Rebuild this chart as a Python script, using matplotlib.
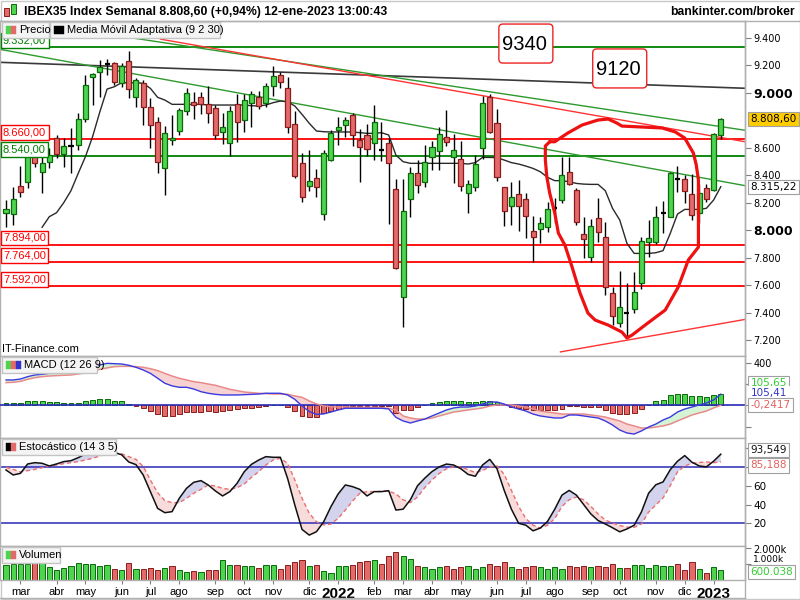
import numpy as np
import pandas as pd
import matplotlib
matplotlib.use("Agg")
import matplotlib.pyplot as plt
from matplotlib.patches import Rectangle, FancyBboxPatch
import matplotlib.transforms as mtransforms

plt.rcParams['font.family'] = ['Liberation Sans', 'DejaVu Sans']

# ---------------- DATA ----------------
start_date = "2021-02-15"
opens = [8121,8114,8320,8351,8545,8424,8497,8667,8550,8612,8618,8807,9110,9151,9210,9212,9067,9229,8965,9071,
         8892,8783,8448,8654,8720,8865,8928,8965,8916,8885,8715,8635,8914,8800,8921,8970,8921,9050,9127,9030,
         8771,8485,8320,8376,8114,8509,8727,8764,8836,8654,8691,8635,8583,8630,8296,7510,8223,8412,8347,8528,
         8574,8674,8533,8514,8271,8310,8594,8965,8776,8310,8177,8262,8223,7993,8005,8019,8160,8218,8419,8291,
         7968,7801,8085,7952,7539,7326,7396,7423,7617,7915,7910,8124,8097,8371,8371,8262,8121,8303,8291,8691]
highs = [8218,8315,8465,8594,8594,8538,8594,8691,8667,8739,8848,9127,9144,9236,9241,9224,9212,9302,9103,9091,
         8958,8824,8756,8836,8885,9030,9006,9006,9047,8909,8848,8902,8989,8989,9013,9013,9067,9193,9151,9110,
         8868,8562,8582,8441,8582,8727,8824,8824,8853,8732,8771,8909,8788,8667,8368,8368,8461,8509,8618,8650,
         8747,8873,8698,8650,8364,8545,8974,8989,8877,8315,8351,8364,8267,8102,8097,8206,8230,8533,8533,8303,
         8097,8078,8230,8061,7588,7704,7617,7692,7947,8073,8175,8211,8424,8468,8400,8407,8332,8332,8703,8817]
lows = [8024,8036,8238,8303,8461,8271,8448,8526,8461,8417,8582,8788,8909,8970,9127,9054,9042,8958,8897,8764,
        8594,8417,8255,8618,8691,8836,8805,8844,8776,8659,8625,8538,8642,8715,8751,8877,8892,8977,9035,8703,
        8376,8206,8286,8242,8073,8504,8618,8679,8611,8351,8538,8509,8504,8044,7714,7292,8092,8271,8310,8436,
        8436,8611,8339,8284,8126,8286,8514,8703,8359,8029,8036,7995,7939,7770,7908,7988,8048,8194,8327,8036,
        7794,7770,7915,7527,7309,7292,7212,7394,7569,7801,7898,7976,8097,8279,8194,8073,8053,8206,8286,8659]
closes = [8150,8223,8279,8545,8485,8490,8545,8550,8611,8616,8805,9054,9134,9188,9214,9079,9195,9023,9091,8897,
          8764,8497,8708,8669,8873,8994,8909,8916,8853,8691,8751,8865,8788,8945,8987,8902,9047,9120,9074,8747,
          8395,8238,8354,8310,8558,8708,8747,8800,8691,8601,8587,8788,8585,8485,7721,8141,8412,8327,8497,8601,
          8696,8642,8582,8320,8332,8480,8926,8715,8383,8141,8238,8175,8102,7947,8048,8150,8164,8400,8332,8061,
          7932,8032,7983,7583,7375,7438,7392,7547,7920,7939,8092,8128,8417,8375,8286,8109,8267,8223,8696,8809]
ama = [np.nan]*5 + [8020,8097,8126,8199,8286,8412,8533,8680,8860,9025,9042,9071,9071,9071,9067,
       9030,8965,8945,8914,8914,8914,8914,8914,8909,8909,8909,8909,8909,8909,8904,8902,8909,8926,8938,8933,
       8902,8841,8776,8720,8715,8713,8713,8713,8713,8708,8703,8703,8708,8691,8545,8497,8485,8485,8485,8485,
       8485,8485,8485,8485,8480,8490,8528,8528,8526,8509,8490,8480,8465,8448,8424,8383,8359,8359,8351,8339,
       8334,8332,8332,8286,8158,8073,7903,7830,7830,7830,7835,7850,7976,8116,8150,8150,8150,8158,8218,8315]
volume_k = [906,1011,1011,1011,1054,1054,801,632,759,843,1075,969,1011,843,906,695,632,1075,695,695,
            759,632,759,843,632,485,548,485,632,632,1222,948,948,843,843,759,906,906,695,906,
            1117,1222,843,948,590,442,843,843,906,1117,1180,1264,1011,1475,1749,1500,1300,900,800,700,
            800,900,700,800,900,700,800,1000,900,1100,800,700,800,900,800,700,800,700,900,800,
            900,800,900,801,969,759,759,906,906,759,906,843,843,969,632,1117,695,442,801,600]
macd_line = [238,238,247,269,285,291,300,300,304,307,313,332,357,379,394,391,388,376,357,332,
             300,254,207,182,169,169,153,128,113,103,97,97,97,100,103,106,113,113,113,97,
             56,-6,-59,-85,-81,-63,-44,-28,-28,-28,-28,-28,-28,-34,-113,-147,-166,-147,-129,-100,
             -72,-44,-25,-16,-16,-7,12,31,31,12,-16,-35,-54,-82,-100,-110,-119,-119,-91,-91,
             -100,-110,-119,-147,-185,-232,-260,-270,-241,-204,-176,-138,-110,-63,-35,-16,3,22,50,105]
macd_signal = [213,216,225,244,260,269,275,279,282,285,294,304,316,338,351,363,366,366,363,357,
               344,326,300,275,254,238,222,213,200,188,169,150,138,125,119,113,110,106,106,103,
               88,75,41,13,-6,-13,-16,-16,-19,-19,-19,-19,-22,-28,-44,-100,-119,-129,-129,-119,
               -100,-82,-63,-54,-44,-35,-25,-7,3,3,3,-7,-16,-35,-54,-63,-72,-82,-82,-82,
               -82,-91,-100,-110,-129,-147,-176,-194,-213,-213,-204,-194,-176,-147,-119,-91,-72,-54,-25,0]
macd_hist = [19,19,19,41,41,41,31,31,19,19,19,41,50,56,56,41,41,9,-3,-28,
             -56,-81,-100,-100,-81,-63,-59,-59,-53,-59,-53,-44,-38,-28,-25,-13,-6,0,0,-19,
             -53,-100,-106,-106,-69,-53,-38,-13,-6,-6,-6,-6,-6,-6,-69,-47,-47,-19,0,19,
             28,38,38,38,28,28,38,38,28,9,-19,-28,-38,-47,-47,-47,-47,-38,-9,-9,
             -19,-19,-19,-47,-75,-85,-85,-72,-31,0,38,54,94,104,104,85,85,82,94,106]
stoch_k = [76.7,71.4,73.1,83.1,84.5,83.8,81.0,83.1,85.6,86.6,89.8,93.7,95.1,95.5,95.5,95.1,93.0,85.2,82.4,71.4,
           53.6,35.9,31.3,32.4,46.6,57.2,63.6,65.4,60.8,54.4,49.1,53.7,62.5,74.9,82.7,87.3,90.9,90.2,90.2,67.8,
           39.5,13.5,7.5,11.1,21.7,37.7,51.2,60.8,59.0,56.1,49.1,53.7,53.7,54.7,34.1,35,45,60,68,75,
           80,83,82,78,72,70,82,88,78,55,35,20,18,12,15,22,35,50,55,50,
           40,30,23,19.3,15.3,11,14,18,32,52,61,64,77,86,92,85,81,80,86,93.5]
stoch_d = [79.5,77.4,74.6,76.0,77.4,79.1,81.0,82.0,83.4,84.5,85.6,87.3,89.1,91.6,93.7,95.1,94.0,90.9,88.0,80.5,
           66.0,52.6,44.1,42.0,42.0,46.6,51.9,56.1,60.8,59.7,57.2,56.1,57.9,61.8,68.9,74.9,82.0,87.3,89.1,83.8,
           66.1,46.6,30.6,21.7,18.2,19.2,25.3,34.1,43.7,51.9,53.7,53.7,54.0,54.4,51.2,45,42,48,58,66,
           73,78,80,80,77,74,76,80,81,72,55,38,25,18,15,18,25,38,45,48,
           45,38,30,23.5,20.3,17.7,16,15.7,19.3,32,39.5,47,60,74.6,81,83.8,84.7,85.2,84.5,85.2]

h_levels = [9332, 8660, 8540, 7894, 7764, 7592]
h_colors = ['#008000', '#ff0000', '#008000', '#ff0000', '#ff0000', '#ff0000']
# trendlines: (week index, price) anchor pairs
tl_black = [(0, 9218), (99, 9037)]
tl_green_up = [(20, 9377), (99, 8752)]
tl_red_up = [(21.3, 9389), (99, 8673)]
tl_green_lo = [(0, 9306), (99, 8355)]
tl_red_lo = [(76.7, 7113), (99, 7319)]
# hand-drawn loop (week index, price)
loop_idx = [75.3,74.7,74.7,74.9,75.3,76.0,76.5,77.4,78.4,79.5,80.6,81.6,83.4,85.3,86.0,86.7,88.9,91.3,93.1,94.5,
            95.9,95.9,95.9,95.9,95.6,95.2,94.0,92.7,90.9,88.1,85.3,84.6,83.4,82.0,79.8,77.8,76.0,75.3]
loop_price = [8642,8611,8509,8388,8269,8124,7978,7891,7731,7542,7396,7345,7309,7258,7215,7236,7324,7418,7585,7782,
              7876,7905,8145,8364,8473,8560,8669,8713,8742,8749,8756,8778,8807,8800,8764,8705,8642,8642]
notes = [("9340", 72.0, 9356), ("9120", 85.0, 9175)]

last_price = 8808.60
tl_value = 8315.22
macd_vals = (105.65, 105.41, -0.2417)
stoch_vals = (93.549, 85.188)
last_volume = 600038

# ---------------- LAYOUT ----------------
W, H = 800, 600
fig = plt.figure(figsize=(8, 6), dpi=100)
fig.patch.set_facecolor('white')
GRAY = '#b0b0b0'

def add_ax(x0, y0, x1, y1):
    ax = fig.add_axes([x0 / W, 1 - y1 / H, (x1 - x0) / W, (y1 - y0) / H])
    for s in ax.spines.values():
        s.set_color(GRAY)
        s.set_linewidth(1)
    ax.set_facecolor('white')
    return ax

def es(v, dec):
    s = f"{v:,.{dec}f}"
    return s.replace(",", "X").replace(".", ",").replace("X", ".")

def px_rect(x0, y0, x1, y1, fc='#f2f2f2', ec='#c0c0c0', lw=1, z=5):
    r = Rectangle((x0 / W, 1 - y1 / H), (x1 - x0) / W, (y1 - y0) / H, transform=fig.transFigure,
                  facecolor=fc, edgecolor=ec, linewidth=lw, zorder=z)
    fig.add_artist(r)

XL = (-0.83, 102.35)
YL = (7084, 9520)
n = len(closes)
idx = np.arange(n)
dates = pd.date_range(start_date, periods=n, freq="7D")

GF, GE = '#4fd44f', '#0a6a0a'
RF, RE = '#e46a6a', '#8a1c1c'

# ---- main price panel ----
axp = add_ax(0, 21, 745, 356)
axp.set_xlim(XL)
axp.set_ylim(YL)
axp.set_xticks([])

for lvl, col in zip(h_levels, h_colors):
    axp.axhline(lvl, color=col, lw=1.3, zorder=2)

def tline(pts, col, lw=1.0, start_at_first=False):
    (x1, y1), (x2, y2) = pts
    sl = (y2 - y1) / (x2 - x1)
    xa = x1 if start_at_first else XL[0]
    xs = np.array([xa, XL[1]])
    axp.plot(xs, y1 + sl * (xs - x1), color=col, lw=lw, zorder=2, solid_capstyle='butt')

tline(tl_black, '#3a3a3a', 1.2)
tline(tl_green_up, '#2e9a2e', 1.0)
tline(tl_red_up, '#ff3333', 1.0, start_at_first=True)
tline(tl_green_lo, '#2e9a2e', 1.0)
tline(tl_red_lo, '#ff3333', 1.0, start_at_first=True)

axp.plot(idx, ama, color='#2a2a2a', lw=1.0, zorder=3)

bw = 0.7
for i, (o, h, l, c) in enumerate(zip(opens, highs, lows, closes)):
    axp.vlines(i, l, h, color='black', lw=1.0, zorder=4)
    if abs(c - o) < 6:
        axp.hlines(o, i - bw / 2, i + bw / 2, color='black', lw=1.6, zorder=5)
    else:
        up = c > o
        axp.add_patch(Rectangle((i - bw / 2, min(o, c)), bw, abs(c - o),
                                facecolor=GF if up else RF, edgecolor=GE if up else RE,
                                lw=0.9, zorder=5))

axp.plot(loop_idx, loop_price, color='#ee1111', lw=2.3, zorder=6,
         solid_joinstyle='round', solid_capstyle='round')

# note boxes: size in pixels converted through the axes scale
ppx = 745 / (XL[1] - XL[0])          # pixels per week
ppy = 335 / (YL[1] - YL[0])          # pixels per point
bwid, bhei, rad = 54 / ppx, 39 / ppy, 4 / ppx
for txt, xi, yp in notes:
    axp.add_patch(FancyBboxPatch((xi - bwid / 2, yp - bhei / 2), bwid, bhei,
                                 boxstyle=f'round,pad=0,rounding_size={rad}',
                                 mutation_aspect=ppx / ppy, fc='white', ec='#ee2222', lw=1, zorder=7))
    axp.text(xi - 0.2, yp - 10, txt, fontsize=14.5, ha='center', va='center', zorder=8)

blend = mtransforms.blended_transform_factory(axp.transAxes, axp.transData)
for lvl, col in zip(h_levels, h_colors):
    axp.text(0.004, lvl + 12, es(lvl, 2), transform=blend, color=col, fontsize=8, ha='left', va='bottom',
             zorder=8, bbox=dict(boxstyle='square,pad=0.22', fc='white', ec=col, lw=1))

ticks = [7200, 7400, 7600, 7800, 8000, 8200, 8400, 8600, 9000, 9200, 9400]
axp.yaxis.tick_right()
axp.set_yticks(ticks, labels=[es(t, 0) for t in ticks])
axp.tick_params(axis='y', length=4, width=0.8, color='#808080', pad=2, labelsize=7.5)
for lb in axp.get_yticklabels():
    lb.set_family('DejaVu Sans')
    if lb.get_text() in ('9.000', '8.000'):
        lb.set_fontweight('bold')
        lb.set_fontsize(9)
    else:
        lb.set_fontsize(7)

axp.annotate(es(last_price, 2), xy=(1, last_price), xycoords=('axes fraction', 'data'),
             xytext=(4, 0), textcoords='offset points', va='center', ha='left', fontsize=7.5,
             family='DejaVu Sans', annotation_clip=False,
             bbox=dict(boxstyle='square,pad=0.2', fc='#ffcc00', ec='#a0a0a0', lw=0.8))
axp.annotate(es(tl_value, 2), xy=(1, tl_value), xycoords=('axes fraction', 'data'),
             xytext=(4, 0), textcoords='offset points', va='center', ha='left', fontsize=7.5,
             family='DejaVu Sans', annotation_clip=False,
             bbox=dict(boxstyle='square,pad=0.2', fc='white', ec='#a0a0a0', lw=0.8))
axp.text(0.003, 0.005, "IT-Finance.com", transform=axp.transAxes, fontsize=8, va='bottom', ha='left')

# ---- MACD panel ----
axm = add_ax(0, 356, 745, 438)
axm.set_xlim(XL)
axm.set_ylim(-307, 463)
axm.set_xticks([])
mline = np.array(macd_line, float)
msig = np.array(macd_signal, float)
axm.fill_between(idx, mline, msig, where=mline >= msig, interpolate=True, color='#d5f3d5', lw=0, zorder=1)
axm.fill_between(idx, mline, msig, where=mline < msig, interpolate=True, color='#f7d2d2', lw=0, zorder=1)
hist = np.array(macd_hist, float)
axm.bar(idx, hist, width=0.68, color=[GF if v >= 0 else RF for v in hist],
        edgecolor=[GE if v >= 0 else RE for v in hist], lw=0.7, zorder=2)
axm.axhline(0, color='#2a2ab8', lw=1.2, zorder=3)
axm.plot(idx, msig, color='#e88a8a', lw=1.1, zorder=4)
axm.plot(idx, mline, color='#3a3ae0', lw=1.0, zorder=5)
axm.yaxis.tick_right()
axm.set_yticks([400, 200, 0, -200], labels=['400', '', '', ''])
axm.tick_params(axis='y', length=4, width=0.8, color='#808080', pad=2, labelsize=7)
for lb in axm.get_yticklabels():
    lb.set_family('DejaVu Sans')

def rlabel(ax, y, txt, col, box=True, dy=0):
    ax.annotate(txt, xy=(1, y), xycoords=('axes fraction', 'data'), xytext=(4, dy),
                textcoords='offset points', va='center', ha='left', fontsize=7.5, color=col,
                family='DejaVu Sans', annotation_clip=False,
                bbox=dict(boxstyle='square,pad=0.2', fc='white', ec='#a0a0a0' if box else 'white', lw=0.8))

rlabel(axm, macd_vals[0], es(macd_vals[0], 2), '#33cc33', dy=8)
rlabel(axm, macd_vals[1], es(macd_vals[1], 2), '#3333cc', box=False, dy=1)
rlabel(axm, macd_vals[2], es(macd_vals[2], 4), '#e06060')

# ---- Stochastic panel ----
axs = add_ax(0, 438, 745, 546)
axs.set_xlim(XL)
axs.set_ylim(-4.1, 110.7)
axs.set_xticks([])
k = np.array(stoch_k, float)
d = np.array(stoch_d, float)
axs.fill_between(idx, k, d, where=k >= d, interpolate=True, color='#d3d3ee', lw=0, zorder=1)
axs.fill_between(idx, k, d, where=k < d, interpolate=True, color='#f8dcdc', lw=0, zorder=1)
axs.axhline(80, color='#2a2ab8', lw=1.1, zorder=2)
axs.axhline(20, color='#2a2ab8', lw=1.1, zorder=2)
axs.plot(idx, d, color='#e87070', lw=1.0, dashes=(3, 2), zorder=3)
axs.plot(idx, k, color='#111111', lw=1.1, zorder=4)
axs.yaxis.tick_right()
axs.set_yticks([100, 80, 60, 40, 20], labels=['', '', '60', '40', '20'])
axs.tick_params(axis='y', length=4, width=0.8, color='#808080', pad=2, labelsize=7.5)
for lb in axs.get_yticklabels():
    lb.set_family('DejaVu Sans')
rlabel(axs, stoch_vals[0], es(stoch_vals[0], 3), '#111111', dy=3)
rlabel(axs, stoch_vals[1], es(stoch_vals[1], 3), '#e06060', dy=-2.5)

# ---- Volume panel ----
axv = add_ax(0, 546, 745, 580)
axv.set_xlim(XL)
axv.set_ylim(0, 2117)
vcols = [GF] + [GF if closes[i] >= closes[i - 1] else RF for i in range(1, n)]
vedge = [GE] + [GE if closes[i] >= closes[i - 1] else RE for i in range(1, n)]
axv.bar(idx, volume_k, width=0.72, color=vcols, edgecolor=vedge, lw=0.7, zorder=2)
axv.yaxis.tick_right()
axv.set_yticks([2000, 1000], labels=['2.000k', '1.000k'])
axv.tick_params(axis='y', length=4, width=0.8, color='#808080', pad=2, labelsize=7)
for lb in axv.get_yticklabels():
    lb.set_family('DejaVu Sans')
    if lb.get_text() == '1.000k':
        lb.set_fontsize(6.5)
        lb.set_transform(lb.get_transform() + mtransforms.ScaledTranslation(0, 5.5 / 100, fig.dpi_scale_trans))
    else:
        lb.set_transform(lb.get_transform() + mtransforms.ScaledTranslation(0, -1.5 / 100, fig.dpi_scale_trans))
axv.annotate(f"{last_volume:,}".replace(",", "."), xy=(1, last_volume / 1000), xycoords=('axes fraction', 'data'),
             xytext=(4, -1), textcoords='offset points', va='center', ha='left', fontsize=7.5,
             color='#33cc33', family='DejaVu Sans', annotation_clip=False,
             bbox=dict(boxstyle='square,pad=0.2', fc='white', ec='#a0a0a0', lw=0.8))

months_es = ['ene', 'feb', 'mar', 'abr', 'may', 'jun', 'jul', 'ago', 'sep', 'oct', 'nov', 'dic']
tpos, tlab = [], []
for i in range(1, n):
    if dates[i].month != dates[i - 1].month:
        tpos.append(i)
        tlab.append(str(dates[i].year) if dates[i].month == 1 else months_es[dates[i].month - 1])
axv.set_xticks(tpos, labels=tlab)
axv.tick_params(axis='x', length=3, width=0.8, color='#808080', pad=2, labelsize=8)
for lb in axv.get_xticklabels():
    if lb.get_text().isdigit():
        lb.set_fontweight('bold')
        lb.set_fontsize(11)

# ---- frame, title, legends ----
px_rect(0.5, 0.5, 799.5, 599, fc='none', ec='#c8c8c8', z=0)
fig.add_artist(plt.Line2D([0, 1], [1 - 20.5 / H, 1 - 20.5 / H], transform=fig.transFigure, color=GRAY, lw=1))
fig.add_artist(plt.Line2D([0, 745 / W], [1 - 598 / H, 1 - 598 / H], transform=fig.transFigure, color=GRAY, lw=1))
fig.add_artist(plt.Line2D([745 / W, 745 / W], [1 - 598 / H, 1 - 21 / H], transform=fig.transFigure, color=GRAY, lw=1))

# title icon
px_rect(4, 8, 9, 16, fc=RF, ec=RE, lw=0.7, z=6)
px_rect(11, 4, 16, 14, fc=GF, ec=GE, lw=0.7, z=6)
fig.text(24 / W, 1 - 12 / H, "IBEX35 Index Semanal 8.808,60 (+0,94%) 12-ene-2023 13:00:43",
         fontsize=8.8, fontweight='bold', va='center', ha='left')
fig.text(795 / W, 1 - 12 / H, "bankinter.com/broker", fontsize=8.7, fontweight='bold', va='center', ha='right')

def legend_box(x0, y0, x1, y1, icons, label):
    px_rect(x0, y0, x1, y1, fc='#f4f4f4', ec='#c4c4c4', z=9)
    xi = x0 + 4
    for col, ec in icons:
        px_rect(xi, y0 + 4, xi + 5, y1 - 4, fc=col, ec=col, lw=0.3, z=10)
        xi += 5
    fig.text((xi + 3) / W, 1 - ((y0 + y1) / 2) / H, label, fontsize=8, va='center', ha='left', zorder=11)

legend_box(2, 22, 49, 38, [(GF, GE), (RF, RE)], "Precio")
legend_box(50, 22, 220, 38, [('#000000', '#000'), ('#000000', '#000')], "Media Móvil Adaptativa (9 2 30)")
legend_box(2, 357, 97, 373, [(GF, GE), (RF, RE), ('#3333cc', '#33c')], "MACD (12 26 9)")
legend_box(2, 439, 116, 455, [('#000000', '#000'), (RF, RE)], "Estocástico (14 3 5)")
legend_box(2, 547, 60, 563, [(GF, GE), (RF, RE)], "Volumen")

fig.savefig("out.png", dpi=100, facecolor='white')
